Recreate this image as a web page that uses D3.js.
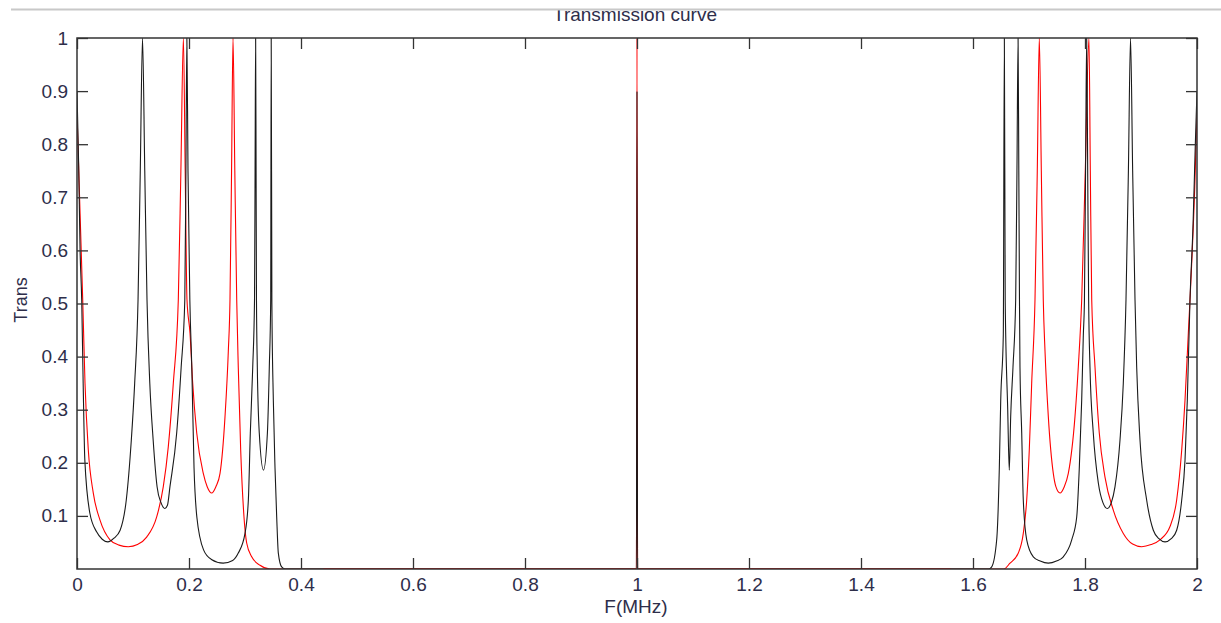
<!DOCTYPE html>
<html>
<head>
<meta charset="utf-8">
<script src="https://cdn.jsdelivr.net/npm/d3@7"></script>
<style>
  html, body { margin: 0; padding: 0; background: #fff; }
  svg { display: block; }
  text { font-family: "Liberation Sans", Arial, sans-serif; }
</style>
</head>
<body>
<svg id="chart" width="1221" height="623"></svg>
<script>
// ---------------- data ----------------
const chartTitle = "Transmission curve";
const xLabel = "F(MHz)";
const yLabel = "Trans";

const xTicks = [0, 0.2, 0.4, 0.6, 0.8, 1, 1.2, 1.4, 1.6, 1.8, 2];
const yTicks = [0.1, 0.2, 0.3, 0.4, 0.5, 0.6, 0.7, 0.8, 0.9, 1];

// black curve: frequency (MHz) and transmission
const blackF = [
  0.000, 0.003, 0.0055, 0.0084, 0.011, 0.014, 0.023, 0.035, 0.045, 0.055,
  0.066, 0.077, 0.088, 0.097, 0.103, 0.109, 0.113, 0.117, 0.121, 0.125,
  0.130, 0.136, 0.143, 0.150, 0.157, 0.1615, 0.166, 0.178, 0.186, 0.1925,
  0.1945, 0.1962, 0.1982, 0.2015, 0.205, 0.209, 0.214, 0.226, 0.240, 0.261,
  0.278, 0.288, 0.300, 0.306, 0.3095, 0.3138, 0.317, 0.318, 0.319, 0.3198,
  0.3205, 0.322, 0.3255, 0.333, 0.340, 0.3434, 0.3459, 0.3468, 0.348, 0.3506,
  0.3536, 0.3566, 0.3595, 0.3655, 0.372, 0.999, 1.000, 1.001, 1.628, 1.6334,
  1.6423, 1.647, 1.6495, 1.6541, 1.656, 1.6575, 1.662, 1.6648, 1.6673, 1.6714,
  1.6762, 1.6785, 1.6805, 1.6818, 1.683, 1.6839, 1.687, 1.6898, 1.6959, 1.7077,
  1.720, 1.7345, 1.749, 1.7613, 1.7763, 1.7852, 1.7898, 1.7941, 1.797, 1.799,
  1.801, 1.803, 1.8048, 1.8065, 1.8089, 1.8148, 1.8238, 1.832, 1.8398, 1.847,
  1.8536, 1.8625, 1.8684, 1.8732, 1.8775, 1.8813, 1.8851, 1.8893, 1.8923, 1.8982,
  1.9101, 1.922, 1.932, 1.9429, 1.954, 1.9637, 1.9727, 1.9786, 1.9827, 1.9875,
  1.993, 1.997, 2.000
];
const blackT = [
  0.90, 0.76, 0.60, 0.507, 0.35, 0.205, 0.105, 0.07, 0.056, 0.051,
  0.058, 0.073, 0.13, 0.243, 0.35, 0.507, 0.75, 1.00, 0.75, 0.507,
  0.35, 0.243, 0.155, 0.125, 0.114, 0.12, 0.155, 0.256, 0.38, 0.507,
  0.75, 1.00, 0.75, 0.507, 0.38, 0.19, 0.098, 0.036, 0.018, 0.011,
  0.016, 0.03, 0.067, 0.13, 0.256, 0.38, 0.507, 0.75, 1.00, 0.75,
  0.507, 0.38, 0.256, 0.186, 0.256, 0.38, 0.507, 1.00, 0.50, 0.318,
  0.19, 0.098, 0.03, 0.004, 0.0, 0.0, 0.90, 0.0, 0.0, 0.004,
  0.055, 0.19, 0.318, 0.44, 1.00, 0.507, 0.30, 0.186, 0.287, 0.38,
  0.507, 0.75, 1.00, 0.75, 0.507, 0.38, 0.256, 0.13, 0.055, 0.023,
  0.015, 0.011, 0.015, 0.023, 0.055, 0.098, 0.19, 0.318, 0.44, 0.507,
  0.75, 1.00, 0.75, 0.507, 0.38, 0.256, 0.162, 0.125, 0.114, 0.125,
  0.155, 0.243, 0.35, 0.507, 0.75, 1.00, 0.75, 0.507, 0.38, 0.243,
  0.13, 0.073, 0.057, 0.051, 0.057, 0.073, 0.13, 0.205, 0.318, 0.507,
  0.65, 0.80, 0.90
];

// red curve: frequency (MHz) and transmission
const redF = [
  0.000, 0.004, 0.0102, 0.0143, 0.0202, 0.0291, 0.0411, 0.0589, 0.075, 0.0916,
  0.108, 0.1244, 0.1423, 0.1541, 0.163, 0.172, 0.1809, 0.1855, 0.190,
  0.1932, 0.1964, 0.2018, 0.2066, 0.2138, 0.2255, 0.2325, 0.2405, 0.248, 0.2554,
  0.2643, 0.2702, 0.2732, 0.276, 0.2786, 0.2818, 0.2852, 0.288, 0.2923, 0.2982,
  0.303, 0.312, 0.3268, 0.3446, 0.44, 0.999, 1.000, 1.001, 1.56, 1.655,
  1.6661, 1.6809, 1.6898, 1.6959, 1.7005, 1.7048, 1.7107, 1.7148, 1.7184, 1.722,
  1.7255, 1.7286, 1.7345, 1.7434, 1.748, 1.7554, 1.763, 1.7702, 1.7821, 1.788,
  1.7941, 1.8005, 1.8071, 1.8095, 1.812, 1.8179, 1.8255, 1.8357, 1.8505, 1.8684,
  1.885, 1.9013, 1.918, 1.9339, 1.9518, 1.9637, 1.9727, 1.9786, 1.9845, 1.9875,
  1.996, 2.000
];
const redT = [
  0.86, 0.72, 0.507, 0.35, 0.224, 0.143, 0.092, 0.055, 0.045, 0.042,
  0.046, 0.06, 0.098, 0.155, 0.23, 0.35, 0.507, 0.75, 1.00,
  0.75, 0.507, 0.444, 0.35, 0.256, 0.18, 0.155, 0.143, 0.155, 0.18,
  0.287, 0.41, 0.507, 0.75, 1.00, 0.75, 0.507, 0.38, 0.224, 0.098,
  0.049, 0.023, 0.007, 0.0, 0.0, 0.0, 1.00, 0.0, 0.0, 0.0,
  0.011, 0.03, 0.067, 0.13, 0.224, 0.35, 0.507, 0.75, 1.00, 0.75,
  0.507, 0.41, 0.287, 0.18, 0.155, 0.143, 0.155, 0.18, 0.287, 0.38,
  0.507, 0.75, 1.00, 0.75, 0.507, 0.38, 0.256, 0.173, 0.111, 0.067,
  0.047, 0.042, 0.046, 0.055, 0.08, 0.13, 0.224, 0.318, 0.444, 0.507,
  0.72, 0.86
];

// ---------------- drawing ----------------
const W = 1221, H = 623;
const m = { left: 77, right: 1197, top: 38, bottom: 569 };
const svg = d3.select("#chart");

const x = d3.scaleLinear().domain([0, 2]).range([m.left, m.right]);
const y = d3.scaleLinear().domain([0, 1]).range([m.bottom, m.top]);

const black = blackF.map((f, i) => ({ f, t: blackT[i] }));
const red = redF.map((f, i) => ({ f, t: redT[i] }));

svg.append("defs").append("clipPath").attr("id", "plotClip")
  .append("rect")
  .attr("x", m.left).attr("y", m.top)
  .attr("width", m.right - m.left).attr("height", m.bottom - m.top);

const line = d3.line().x(d => x(d.f)).y(d => y(d.t)).curve(d3.curveMonotoneX);

const g = svg.append("g").attr("clip-path", "url(#plotClip)");
g.append("path").datum(red).attr("d", line)
  .attr("fill", "none").attr("stroke", "#ff0000").attr("stroke-width", 1.1);
g.append("path").datum(black).attr("d", line)
  .attr("fill", "none").attr("stroke", "#1a1a1a").attr("stroke-width", 1.1);
// red floor drawn on top in the flat band (as in the reference)
const redFloor = [
  red.filter(d => d.f >= 0.44 && d.f <= 0.999),
  red.filter(d => d.f >= 1.001 && d.f <= 1.56)
];
redFloor.forEach(seg => {
  g.append("path").datum(seg).attr("d", d3.line().x(d => x(d.f)).y(d => y(d.t)))
    .attr("fill", "none").attr("stroke", "#ff0000").attr("stroke-width", 1.6);
});

// axes
const axisColor = "#333";
const labelColor = "#2e2e4a";
const tickLen = 11;
const fmt = d => d3.format("~g")(d);

function styleAxis(sel, showLabels) {
  sel.select(".domain").remove();
  sel.selectAll(".tick line").attr("stroke", axisColor).attr("stroke-width", 1.3);
  sel.selectAll(".tick text")
    .attr("fill", labelColor)
    .style("font-size", "19px")
    .style("font-family", "'Liberation Sans', Arial, sans-serif")
    .style("display", showLabels ? null : "none");
}

svg.append("g").attr("transform", `translate(0,${m.bottom})`)
  .call(d3.axisBottom(x).tickValues(xTicks).tickFormat(fmt)
    .tickSizeInner(-tickLen).tickSizeOuter(0).tickPadding(9))
  .call(s => styleAxis(s, true));
svg.append("g").attr("transform", `translate(0,${m.top})`)
  .call(d3.axisTop(x).tickValues(xTicks).tickSizeInner(-tickLen).tickSizeOuter(0))
  .call(s => styleAxis(s, false));
svg.append("g").attr("transform", `translate(${m.left},0)`)
  .call(d3.axisLeft(y).tickValues(yTicks).tickFormat(fmt)
    .tickSizeInner(-tickLen).tickSizeOuter(0).tickPadding(9))
  .call(s => styleAxis(s, true));
svg.append("g").attr("transform", `translate(${m.right},0)`)
  .call(d3.axisRight(y).tickValues(yTicks).tickSizeInner(-tickLen).tickSizeOuter(0))
  .call(s => styleAxis(s, false));

svg.append("rect")
  .attr("x", m.left).attr("y", m.top)
  .attr("width", m.right - m.left).attr("height", m.bottom - m.top)
  .attr("fill", "none").attr("stroke", axisColor).attr("stroke-width", 1.5);

// axis titles
svg.append("text")
  .attr("x", (m.left + m.right) / 2 - 1).attr("y", 613)
  .attr("text-anchor", "middle").attr("fill", labelColor)
  .style("font-size", "19px").text(xLabel);
svg.append("text")
  .attr("transform", "translate(27,300) rotate(-90)")
  .attr("text-anchor", "middle").attr("fill", labelColor)
  .style("font-size", "18px").text(yLabel);

// title (top partly cut off by the window edge, as in the reference)
svg.append("text")
  .attr("x", 635).attr("y", 21)
  .attr("text-anchor", "middle").attr("fill", labelColor)
  .style("font-size", "19px").text(chartTitle);
svg.append("rect").attr("x", 0).attr("y", 0).attr("width", W).attr("height", 9)
  .attr("fill", "#fff");
svg.append("line")
  .attr("x1", 11).attr("x2", W).attr("y1", 9.5).attr("y2", 9.5)
  .attr("stroke", "#c8c8c8").attr("stroke-width", 2.2);
</script>
</body>
</html>
